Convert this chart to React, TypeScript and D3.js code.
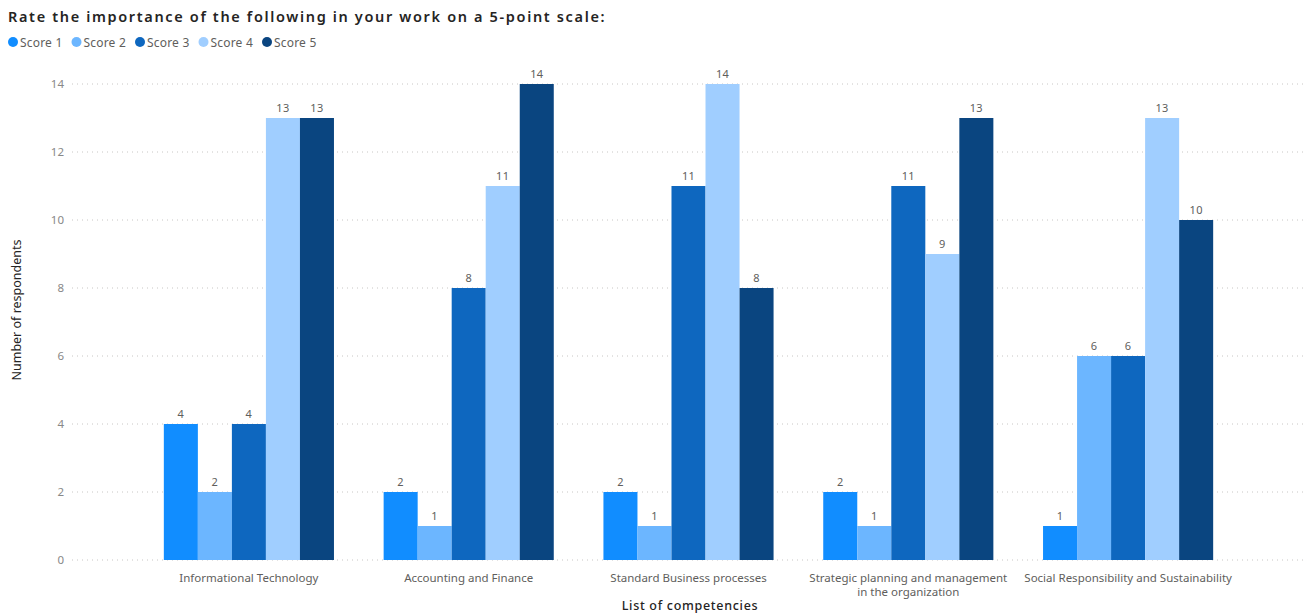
import React from "react";
import * as d3 from "d3";

const categories = [
  "Informational Technology",
  "Accounting and Finance",
  "Standard Business processes",
  "Strategic planning and management in the organization",
  "Social Responsibility and Sustainability",
];
const categoryLines = [
  ["Informational Technology"],
  ["Accounting and Finance"],
  ["Standard Business processes"],
  ["Strategic planning and management", "in the organization"],
  ["Social Responsibility and Sustainability"],
];
const seriesNames = ["Score 1", "Score 2", "Score 3", "Score 4", "Score 5"];
const score1 = [4, 2, 2, 2, 1];
const score2 = [2, 1, 1, 1, 6];
const score3 = [4, 8, 11, 11, 6];
const score4 = [13, 11, 14, 9, 13];
const score5 = [13, 14, 8, 13, 10];
const yTicks = [0, 2, 4, 6, 8, 10, 12, 14];
const colors = ["#118DFF", "#6CB6FF", "#0E67BF", "#A0CEFF", "#0A4580"];

const W = 1308;
const H = 616;
const FONT = "'Noto Sans', 'Open Sans', sans-serif";

export default function App() {
  const series = [score1, score2, score3, score4, score5];
  const y = d3.scaleLinear().domain([0, 14]).range([560, 84]);
  const x0 = d3
    .scaleBand<string>()
    .domain(categories)
    .range([139, 1238])
    .paddingInner(0.226)
    .paddingOuter(0.113);
  const x1 = d3
    .scaleBand<string>()
    .domain(seriesNames)
    .range([0, x0.bandwidth()]);

  return (
    <div style={{ position: "absolute", left: 0, top: 0 }}>
      <svg width={W} height={H} style={{ display: "block", background: "#fff" }}>
        <text x={8} y={22} fontFamily={FONT} fontSize={14.5} fontWeight={600} fill="#252423" letterSpacing={1.65}>
          Rate the importance of the following in your work on a 5-point scale:
        </text>
        {seriesNames.map((s, i) => {
          const lx = 13 + i * 63.5;
          return (
            <g key={s}>
              <circle cx={lx} cy={42} r={5} fill={colors[i]} />
              <text x={lx + 7} y={46.5} fontFamily={FONT} fontSize={12} fill="#605E5C" letterSpacing={0.2}>
                {s}
              </text>
            </g>
          );
        })}
        {yTicks.map((t) => (
          <g key={t}>
            <line x1={72} x2={1305} y1={y(t)} y2={y(t)} stroke="#C8C6C4" strokeDasharray="1,4" />
            <text x={64} y={y(t) + 4} textAnchor="end" fontFamily={FONT} fontSize={11.5} fill="#888">
              {t}
            </text>
          </g>
        ))}
        <text
          transform={`translate(21,${(y(0) + y(14)) / 2 - 12}) rotate(-90)`}
          textAnchor="middle"
          fontFamily={FONT}
          fontSize={12.5}
          fill="#252423"
        >
          Number of respondents
        </text>
        {categories.map((c, ci) => (
          <g key={c} transform={`translate(${x0(c)},0)`}>
            {series.map((vals, si) => {
              const bx = x1(seriesNames[si])!;
              const v = vals[ci];
              return (
                <g key={si}>
                  <rect x={bx} y={y(v)} width={x1.bandwidth()} height={y(0) - y(v)} fill={colors[si]} />
                  <text
                    x={bx + x1.bandwidth() / 2}
                    y={y(v) - 6}
                    textAnchor="middle"
                    fontFamily={FONT}
                    fontSize={11}
                    fill="#605E5C"
                    letterSpacing={0.3}
                  >
                    {v}
                  </text>
                </g>
              );
            })}
            {categoryLines[ci].map((ln, li) => (
              <text
                key={li}
                x={x0.bandwidth() / 2}
                y={582 + li * 14}
                textAnchor="middle"
                fontFamily={FONT}
                fontSize={11.5}
                fill="#605E5C"
              >
                {ln}
              </text>
            ))}
          </g>
        ))}
        <text
          x={690}
          y={610}
          textAnchor="middle"
          fontFamily={FONT}
          fontSize={12.5}
          fontWeight={500}
          fill="#252423"
          letterSpacing={0.7}
        >
          List of competencies
        </text>
      </svg>
    </div>
  );
}
